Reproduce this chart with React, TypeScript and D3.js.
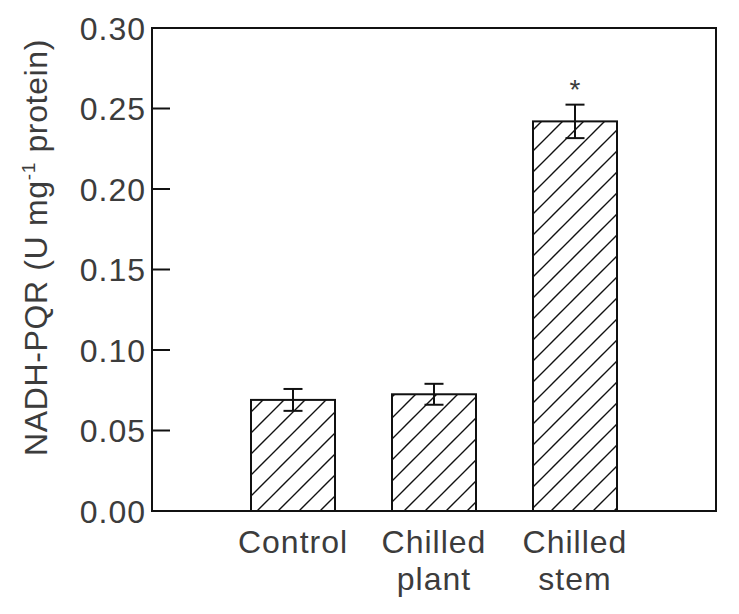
import * as d3 from 'd3';
import React, { useEffect, useRef } from 'react';

// NADH-PQR activity per treatment, mean ± SE
const categories: string[][] = [['Control'], ['Chilled', 'plant'], ['Chilled', 'stem']];
const means = [0.069, 0.0725, 0.242];
const errors = [0.0068, 0.0065, 0.0104];
const significant = [false, false, true];
const yTicks = [0, 0.05, 0.1, 0.15, 0.2, 0.25, 0.3];

const svgWidth = 739;
const svgHeight = 614;
const margin = { top: 28, right: 23, bottom: 103, left: 152 };
const width = svgWidth - margin.left - margin.right;
const height = svgHeight - margin.top - margin.bottom;
const font = '"Liberation Sans", Arial, sans-serif';
const ink = '#111';
const textInk = '#3c3c3c';

export default function App() {
  const chartRef = useRef<SVGSVGElement>(null);

  useEffect(() => {
    const svgEl = d3.select(chartRef.current);
    svgEl.selectAll('*').remove();

    // bars sit at slots 1..3 on a 0..4 axis, leaving an empty slot at left
    const x = d3.scaleLinear().domain([0, categories.length + 1]).range([0, width]);
    const y = d3.scaleLinear().domain([0, 0.3]).range([height, 0]);
    const barWidth = 84;
    const capWidth = 19;

    const defs = svgEl.append('defs');
    const hatch = defs.append('pattern')
      .attr('id', 'hatch')
      .attr('patternUnits', 'userSpaceOnUse')
      .attr('width', 21)
      .attr('height', 21);
    hatch.append('rect').attr('width', 21).attr('height', 21).attr('fill', '#fff');
    hatch.append('path')
      .attr('d', 'M-5,5 l10,-10 M0,21 l21,-21 M16,26 l10,-10')
      .attr('stroke', ink)
      .attr('stroke-width', 1.4);

    const g = svgEl.append('g').attr('transform', `translate(${margin.left},${margin.top})`);

    // bars
    g.selectAll('.bar')
      .data(means)
      .enter().append('rect')
      .attr('class', 'bar')
      .attr('x', (d, i) => x(i + 1) - barWidth / 2)
      .attr('y', d => y(d))
      .attr('width', barWidth)
      .attr('height', d => height - y(d))
      .attr('fill', 'url(#hatch)')
      .attr('stroke', ink)
      .attr('stroke-width', 2);

    // error bars
    const err = g.selectAll('.err')
      .data(means)
      .enter().append('g')
      .attr('class', 'err')
      .attr('stroke', ink)
      .attr('stroke-width', 2);
    err.append('line')
      .attr('x1', (d, i) => x(i + 1)).attr('x2', (d, i) => x(i + 1))
      .attr('y1', (d, i) => y(d + errors[i])).attr('y2', (d, i) => y(d - errors[i]));
    err.append('line')
      .attr('x1', (d, i) => x(i + 1) - capWidth / 2).attr('x2', (d, i) => x(i + 1) + capWidth / 2)
      .attr('y1', (d, i) => y(d + errors[i])).attr('y2', (d, i) => y(d + errors[i]));
    err.append('line')
      .attr('x1', (d, i) => x(i + 1) - capWidth / 2).attr('x2', (d, i) => x(i + 1) + capWidth / 2)
      .attr('y1', (d, i) => y(d - errors[i])).attr('y2', (d, i) => y(d - errors[i]));

    // significance marks
    g.selectAll('.star')
      .data(means.map((d, i) => ({ d, i })).filter(p => significant[p.i]))
      .enter().append('text')
      .attr('class', 'star')
      .attr('x', p => x(p.i + 1))
      .attr('y', p => y(p.d + errors[p.i]) - 6)
      .attr('text-anchor', 'middle')
      .attr('font-family', font)
      .attr('font-size', 28)
      .attr('fill', textInk)
      .text('*');

    // frame
    g.append('rect')
      .attr('width', width)
      .attr('height', height)
      .attr('fill', 'none')
      .attr('stroke', ink)
      .attr('stroke-width', 2);

    // y ticks point inward
    g.selectAll('.ytick')
      .data(yTicks.slice(1, -1))
      .enter().append('line')
      .attr('class', 'ytick')
      .attr('x1', 0).attr('x2', 18)
      .attr('y1', d => y(d)).attr('y2', d => y(d))
      .attr('stroke', ink)
      .attr('stroke-width', 2);

    g.selectAll('.ylabel')
      .data(yTicks)
      .enter().append('text')
      .attr('class', 'ylabel')
      .attr('x', -6)
      .attr('y', d => y(d))
      .attr('dy', '0.36em')
      .attr('text-anchor', 'end')
      .attr('font-family', font)
      .attr('font-size', 32)
      .attr('letter-spacing', 1)
      .attr('fill', textInk)
      .text(d => d3.format('.2f')(d));

    // category labels, one tspan per line
    const cat = g.selectAll('.cat')
      .data(categories)
      .enter().append('text')
      .attr('class', 'cat')
      .attr('text-anchor', 'middle')
      .attr('font-family', font)
      .attr('font-size', 32)
      .attr('letter-spacing', 1)
      .attr('fill', textInk);
    cat.selectAll('tspan')
      .data((d, i) => d.map((line, k) => ({ line, k, i })))
      .enter().append('tspan')
      .attr('x', p => x(p.i + 1))
      .attr('y', p => height + 42 + p.k * 37)
      .text(p => p.line);

    // y axis title with superscript
    const title = svgEl.append('text')
      .attr('transform', `translate(47,${margin.top + height / 2 - 22}) rotate(-90)`)
      .attr('text-anchor', 'middle')
      .attr('font-family', font)
      .attr('font-size', 32)
      .attr('letter-spacing', 0.65)
      .attr('fill', textInk);
    title.append('tspan').text('NADH-PQR (U mg');
    title.append('tspan').attr('font-size', 19).attr('dy', -12).text('-1');
    title.append('tspan').attr('dy', 12).text(' protein)');
  }, []);

  return (
    <svg
      ref={chartRef}
      width={svgWidth}
      height={svgHeight}
      style={{ position: 'absolute', left: 0, top: 0, background: '#fff' }}
    />
  );
}
